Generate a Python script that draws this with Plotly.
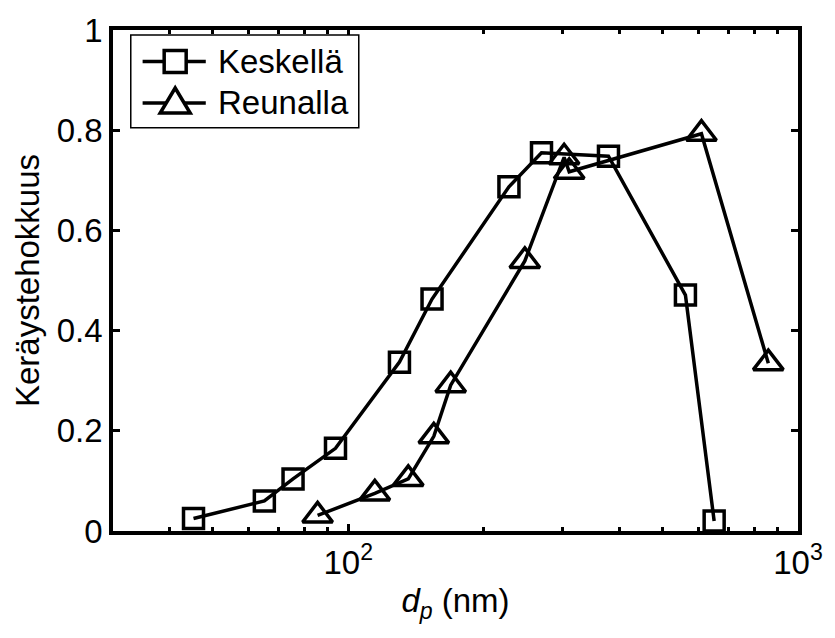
import plotly.graph_objects as go

# Particle diameter (nm) and collection efficiency for the two sampling positions
keskella_dp = [45.3, 65.1, 75.4, 93.7, 130, 153.6, 227.7, 269, 379, 562, 651]
keskella_eff = [0.025, 0.06, 0.104, 0.165, 0.337, 0.463, 0.687, 0.755, 0.748, 0.471, 0.02]

reunalla_dp = [85.5, 114.6, 136, 155, 169, 247, 302, 310, 610, 859]
reunalla_eff = [0.031, 0.075, 0.104, 0.189, 0.291, 0.539, 0.746, 0.717, 0.793, 0.335]

series_names = ["Keskellä", "Reunalla"]

y_ticks = [0, 0.2, 0.4, 0.6, 0.8, 1]
y_tick_text = ["0", "0.2", "0.4", "0.6", "0.8", "1"]
x_ticks = [100, 1000]
x_tick_text = ["10<sup>2</sup>", "10<sup>3</sup>"]
x_minor = [40, 50, 60, 70, 80, 90, 200, 300, 400, 500, 600, 700, 800, 900]

FONT = "Arial, Liberation Sans, Helvetica, sans-serif"
FS = 33
LW = 3.5
W, H = 835, 638
ML, MR, MT, MB = 113, 28, 23, 107
PW, PH = W - ML - MR, H - MT - MB


def px(x):
    """Pixel column -> paper x (relative to the plot area)."""
    return (x - ML) / PW


def py(y):
    """Pixel row -> paper y (relative to the plot area)."""
    return 1 - (y - MT) / PH


fig = go.Figure()
fig.add_trace(go.Scatter(
    x=keskella_dp, y=keskella_eff, name=series_names[0],
    mode="lines+markers",
    line=dict(color="black", width=LW),
    marker=dict(symbol="square-open", size=20, color="black",
                line=dict(color="black", width=LW)),
))
fig.add_trace(go.Scatter(
    x=reunalla_dp, y=reunalla_eff, name=series_names[1],
    mode="lines+markers",
    line=dict(color="black", width=LW),
    marker=dict(symbol="triangle-up-open", size=26, color="black",
                line=dict(color="black", width=LW)),
))

# Boxed legend in the upper-left corner of the axes
shapes = [dict(type="rect", xref="paper", yref="paper",
               x0=px(131), x1=px(362), y0=py(28), y1=py(122),
               line=dict(color="black", width=1.5), fillcolor="white",
               layer="above")]
annotations = []
rows = [55, 97]
for name, row in zip(series_names, rows):
    shapes.append(dict(type="line", xref="paper", yref="paper",
                       x0=px(143), x1=px(207), y0=py(row), y1=py(row),
                       line=dict(color="black", width=LW), layer="above"))
    annotations.append(dict(text=name, xref="paper", yref="paper",
                            x=px(217), y=py(row), xanchor="left",
                            yanchor="middle", showarrow=False,
                            font=dict(family=FONT, size=FS, color="black")))

# legend symbols, sized in pixels around their anchor points
shapes.append(dict(type="rect", xref="paper", yref="paper",
                   xsizemode="pixel", ysizemode="pixel",
                   xanchor=px(176), yanchor=py(rows[0]),
                   x0=-11, x1=11, y0=-11, y1=11,
                   line=dict(color="black", width=LW), fillcolor="white",
                   layer="above"))
shapes.append(dict(type="path", xref="paper", yref="paper",
                   xsizemode="pixel", ysizemode="pixel",
                   xanchor=px(176), yanchor=py(rows[1]),
                   path="M -15,-10 L 15,-10 L 0,15 Z",
                   line=dict(color="black", width=LW), fillcolor="white",
                   layer="above"))

fig.update_layout(
    width=W, height=H,
    margin=dict(l=ML, r=MR, t=MT, b=MB),
    paper_bgcolor="white", plot_bgcolor="white",
    font=dict(family=FONT, size=FS, color="black"),
    showlegend=False,
    shapes=shapes,
    annotations=annotations,
)

fig.update_xaxes(
    type="log", range=[1.4771, 3],
    tickmode="array", tickvals=x_ticks, ticktext=x_tick_text,
    ticks="inside", ticklen=7, tickwidth=3, tickcolor="black",
    minor=dict(tickmode="array", tickvals=x_minor, ticks="inside",
               ticklen=4, tickwidth=3, tickcolor="black", showgrid=False),
    showline=True, linecolor="black", linewidth=LW, mirror="ticks",
    showgrid=False, zeroline=False,
    tickfont=dict(family=FONT, size=FS, color="black"),
    title=dict(text="<i>d</i><sub><i>p</i></sub> (nm)",
               font=dict(family=FONT, size=FS, color="black"), standoff=10),
)
fig.update_yaxes(
    range=[0, 1],
    tickmode="array", tickvals=y_ticks, ticktext=y_tick_text,
    ticks="inside", ticklen=7, tickwidth=3, tickcolor="black",
    showline=True, linecolor="black", linewidth=LW, mirror="ticks",
    showgrid=False, zeroline=False,
    tickfont=dict(family=FONT, size=FS, color="black"),
    title=dict(text="Keräystehokkuus",
               font=dict(family=FONT, size=FS, color="black"), standoff=8),
)

fig.write_html("out.html")
